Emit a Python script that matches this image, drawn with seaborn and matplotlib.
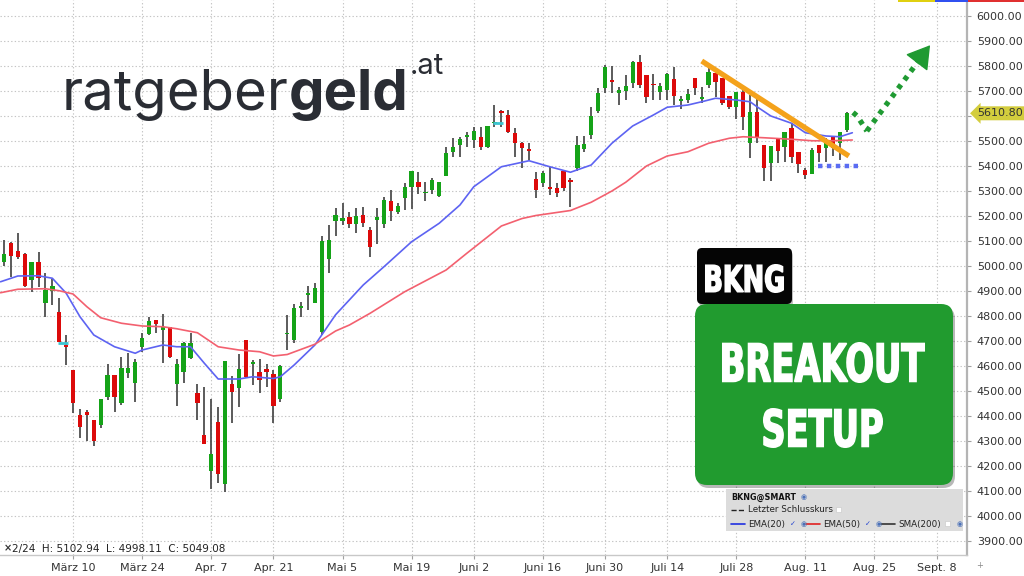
import matplotlib
matplotlib.use("Agg")
import matplotlib.pyplot as plt
import matplotlib.transforms as mtransforms
from matplotlib.patches import FancyBboxPatch, Rectangle, PathPatch
from matplotlib.lines import Line2D
from matplotlib.textpath import TextPath
from matplotlib.font_manager import FontProperties
import numpy as np
import pandas as pd
import seaborn as sns

sns.set_theme(style="white")
plt.rcParams['font.family'] = ['DejaVu Sans']

# ---------------- data (BKNG daily candles) ----------------
opens = [5016, 5091, 5060, 5047, 4944, 5017, 4853, 4901, 4817, 4683,
         4584, 4404, 4417, 4384, 4364, 4477, 4564, 4451, 4571, 4533,
         4677, 4728, 4784, 4744, 4755, 4528, 4577, 4631, 4491, 4324,
         4180, 4377, 4128, 4527, 4513, 4704, 4607, 4575, 4587, 4567,
         4468, 4727, 4704, 4833, 4883, 4853, 4737, 5027, 5181, 5181,
         5195, 5168, 5203, 5144, 5184, 5168, 5260, 5215, 5273, 5317,
         5335, 5291, 5304, 5281, 5361, 5457, 5484, 5515, 5504, 5517,
         5475, 5571, 5620, 5604, 5533, 5491, 5467, 5347, 5331, 5317,
         5311, 5381, 5344, 5391, 5468, 5524, 5620, 5711, 5744, 5694,
         5701, 5731, 5817, 5764, 5728, 5697, 5704, 5747, 5661, 5664,
         5751, 5669, 5724, 5771, 5751, 5680, 5637, 5697, 5491, 5617,
         5484, 5411, 5508, 5477, 5551, 5457, 5384, 5368, 5484, 5471,
         5515, 5493, 5545]
highs = [5102.94, 5097, 5131, 5051, 5017, 5057, 4971, 4947, 4873, 4724,
         4584, 4428, 4424, 4384, 4467, 4608, 4564, 4637, 4653, 4627,
         4731, 4795, 4784, 4808, 4755, 4627, 4697, 4731, 4528, 4515,
         4467, 4437, 4620, 4560, 4648, 4704, 4624, 4629, 4608, 4584,
         4604, 4804, 4848, 4857, 4920, 4933, 5120, 5164, 5231, 5251,
         5217, 5231, 5237, 5155, 5233, 5277, 5304, 5253, 5333, 5381,
         5377, 5336, 5351, 5337, 5475, 5511, 5517, 5537, 5557, 5557,
         5561, 5644, 5624, 5624, 5551, 5497, 5491, 5377, 5381, 5397,
         5331, 5381, 5351, 5520, 5520, 5637, 5711, 5804, 5800, 5715,
         5764, 5821, 5844, 5764, 5768, 5731, 5773, 5797, 5680, 5707,
         5751, 5717, 5791, 5771, 5751, 5680, 5697, 5711, 5684, 5671,
         5484, 5480, 5508, 5537, 5573, 5457, 5391, 5471, 5484, 5511,
         5515, 5537, 5618]
lows = [4998.11, 4957, 5027, 4917, 4897, 4917, 4795, 4844, 4697, 4604,
        4411, 4311, 4301, 4280, 4351, 4464, 4417, 4444, 4551, 4457,
        4657, 4724, 4733, 4613, 4631, 4441, 4531, 4628, 4384, 4288,
        4107, 4131, 4097, 4373, 4435, 4551, 4524, 4491, 4517, 4371,
        4457, 4664, 4691, 4797, 4824, 4851, 4724, 4971, 5120, 5164,
        5151, 5133, 5157, 5037, 5088, 5151, 5181, 5208, 5224, 5229,
        5288, 5261, 5288, 5275, 5361, 5437, 5437, 5477, 5471, 5464,
        5471, 5555, 5555, 5531, 5437, 5391, 5424, 5271, 5315, 5284,
        5277, 5300, 5237, 5381, 5457, 5507, 5613, 5693, 5691, 5644,
        5664, 5711, 5711, 5653, 5664, 5664, 5664, 5644, 5627, 5651,
        5684, 5651, 5711, 5677, 5644, 5627, 5588, 5544, 5431, 5491,
        5341, 5341, 5411, 5417, 5411, 5371, 5347, 5368, 5417, 5417,
        5440, 5424, 5537]
closes = [5049.08, 5040, 5037, 4920, 5017, 4951, 4904, 4920, 4697, 4675,
          4453, 4355, 4404, 4300, 4467, 4564, 4475, 4593, 4591, 4617,
          4711, 4781, 4768, 4755, 4635, 4608, 4691, 4691, 4453, 4288,
          4248, 4167, 4620, 4497, 4587, 4557, 4617, 4544, 4576, 4441,
          4600, 4733, 4831, 4841, 4891, 4911, 5101, 5104, 5205, 5193,
          5167, 5200, 5171, 5075, 5197, 5264, 5221, 5240, 5317, 5381,
          5315, 5297, 5344, 5337, 5453, 5477, 5507, 5524, 5541, 5477,
          5561, 5577, 5613, 5537, 5493, 5471, 5461, 5304, 5371, 5307,
          5291, 5311, 5337, 5484, 5488, 5600, 5693, 5795, 5737, 5704,
          5720, 5817, 5724, 5675, 5723, 5720, 5768, 5680, 5666, 5688,
          5711, 5677, 5777, 5737, 5651, 5637, 5697, 5597, 5617, 5511,
          5391, 5480, 5461, 5537, 5437, 5408, 5364, 5464, 5453, 5491,
          5471, 5537, 5610.80]

# moving averages, sampled along the chart (trading-day position, value)
ema20_pos = [-0.5, 2, 5, 7, 9, 11, 13, 16, 19, 20, 23, 25, 27, 29, 31, 34, 36, 39, 40, 42,
             45, 48, 52, 55, 59, 63, 66, 68, 72, 76, 79, 82, 85, 88, 91, 94, 96, 99, 101,
             103, 106, 108, 109, 111, 114, 116, 119, 121, 122.8]
ema20_val = [4937, 4960, 4961, 4951, 4891, 4797, 4724, 4677, 4651, 4664, 4684, 4677, 4677,
             4611, 4548, 4548, 4557, 4550, 4557, 4604, 4684, 4805, 4924, 4997, 5097, 5171,
             5244, 5317, 5397, 5421, 5397, 5375, 5404, 5491, 5560, 5604, 5635, 5644, 5657,
             5671, 5664, 5657, 5637, 5600, 5571, 5533, 5520, 5517, 5533]
ema50_pos = [-0.5, 2, 6, 8, 10, 12, 14, 17, 20, 23, 25, 28, 31, 34, 37, 39, 41, 45, 48, 50,
             53, 58, 64, 67, 72, 75, 77, 82, 85, 88, 90, 93, 96, 99, 102, 105, 107, 110, 114,
             117, 120, 122.8]
ema50_val = [4893, 4907, 4909, 4901, 4888, 4837, 4793, 4771, 4760, 4757, 4749, 4733, 4677,
             4664, 4657, 4640, 4646, 4687, 4740, 4764, 4811, 4897, 4984, 5051, 5160, 5190,
             5202, 5222, 5255, 5300, 5335, 5400, 5440, 5457, 5491, 5511, 5517, 5513, 5507,
             5501, 5501, 5504]

# annotations drawn on the chart
marker_pos = [8.5, 71.5]
marker_val = [4693, 5571]
trend_pos = [101.0, 122.3]
trend_val = [5820, 5440]
support_pos = [117.8, 123.9]
support_val = [5400, 5400]
fc_pos = [122.9, 123.5, 124.9]
fc_val = [5614, 5600, 5540]
arrow_pos = [124.9, 134.3]
arrow_val = [5540, 5892]

holidays = ['2025-04-18', '2025-05-26', '2025-06-19', '2025-07-04', '2025-09-01']
tick_dates = ['2025-03-10', '2025-03-24', '2025-04-07', '2025-04-21', '2025-05-05',
              '2025-05-19', '2025-06-02', '2025-06-16', '2025-06-30', '2025-07-14',
              '2025-07-28', '2025-08-11', '2025-08-25', '2025-09-08']
tick_labels = ['März 10', 'März 24', 'Apr. 7', 'Apr. 21', 'Mai 5', 'Mai 19', 'Juni 2',
               'Juni 16', 'Juni 30', 'Juli 14', 'Juli 28', 'Aug. 11', 'Aug. 25', 'Sept. 8']

days = pd.bdate_range('2025-02-24', '2025-10-31', freq='C', holidays=holidays)
tick_pos = [days.get_loc(pd.Timestamp(d)) for d in tick_dates]

df = pd.DataFrame({'open': opens, 'high': highs, 'low': lows, 'close': closes})
df['pos'] = np.arange(len(df))
df['up'] = df['close'] >= df['open']

GREEN = '#15a318'
RED = '#dc0a0a'

# ---------------- figure ----------------
fig = plt.figure(figsize=(10.24, 5.76), dpi=100)
ax = fig.add_axes([0, 21 / 576, 967 / 1024, 555 / 576])
ax.set_facecolor('white')
ax.set_xlim(-0.58, 139.4)
ax.set_ylim(3844, 6064)

# grid
ax.set_yticks(np.arange(3900, 6001, 100))
ax.set_xticks(tick_pos, tick_labels)
ax.set_axisbelow(True)
ax.grid(True, color='#c4c4c4', linestyle=(0, (1.2, 2)), linewidth=0.8)

# candles
ax.vlines(df['pos'], df['low'], df['high'], color='#4e4e4e', linewidth=1.3, zorder=2)
body_h = np.maximum((df['close'] - df['open']).abs(), 6)
body_b = np.minimum(df['open'], df['close'])
ax.bar(df['pos'], body_h, bottom=body_b, width=0.62,
       color=np.where(df['up'], GREEN, RED), zorder=3, linewidth=0)

# cyan markers
for p, v in zip(marker_pos, marker_val):
    ax.hlines(v, p - 0.75, p + 0.75, color='#3cc4d2', linewidth=2, zorder=4)

# EMA lines
sns.lineplot(x=ema20_pos, y=ema20_val, ax=ax, color='#5d63f2', linewidth=1.2,
             sort=False, estimator=None, zorder=4)
sns.lineplot(x=ema50_pos, y=ema50_val, ax=ax, color='#f3606f', linewidth=1.2,
             sort=False, estimator=None, zorder=4)

# trendline, support and projected breakout
ax.plot(trend_pos, trend_val, color='#f4a21b', linewidth=3.8, solid_capstyle='butt', zorder=5)
ax.plot(support_pos, support_val, color='#5a6cf2', linewidth=3.2,
        linestyle=(0, (1, 1)), zorder=5)
ax.plot(fc_pos, fc_val, color='#1f9a32', linewidth=3.8, linestyle=(0, (0.9, 1.1)), zorder=5)
ax.plot([arrow_pos[0], arrow_pos[0] + (arrow_pos[1] - arrow_pos[0]) * 0.88],
        [arrow_val[0], arrow_val[0] + (arrow_val[1] - arrow_val[0]) * 0.88],
        color='#1f9a32', linewidth=3.8, linestyle=(0, (0.9, 1.1)), zorder=5)
ax.annotate('', xy=(arrow_pos[1], arrow_val[1]),
            xytext=(arrow_pos[1] - 1.0, arrow_val[1] - 36),
            arrowprops=dict(arrowstyle='-|>,head_length=0.9,head_width=0.55',
                            color='#1f9a32', lw=1, mutation_scale=16), zorder=6)

# axes styling
for s in ['top', 'left']:
    ax.spines[s].set_visible(False)
ax.spines['right'].set_color('#b4b4b4')
ax.spines['right'].set_linewidth(1.6)
ax.spines['bottom'].set_color('#c8c8c8')
ax.spines['bottom'].set_linewidth(1)
ax.yaxis.tick_right()
ax.yaxis.set_major_formatter(plt.FuncFormatter(
    lambda v, _: '' if abs(v - 5600) < 1 else f'{v:.2f}'))
ax.tick_params(axis='y', labelsize=8, labelcolor='#333333', color='#a0a0a0',
               length=3, width=0.8, pad=4, right=True)
ax.tick_params(axis='x', labelsize=8, labelcolor='#333333', color='#a0a0a0',
               length=3, width=0.8, pad=3, bottom=True)
ax.set_xlabel('')
ax.set_ylabel('')

# last close label
blend = mtransforms.blended_transform_factory(ax.transAxes, ax.transData)
ax.text(1.011, closes[-1], f'{closes[-1]:.2f}', transform=blend, ha='left', va='center',
        fontsize=8, color='#333333', clip_on=False, zorder=10,
        bbox=dict(boxstyle='larrow,pad=0.18', fc='#d3cd3d', ec='none'))

# pixel transforms (origin top-left / bottom-left)
pxT = mtransforms.Affine2D().scale(1 / 1024, -1 / 576).translate(0, 1) + fig.transFigure
pxB = mtransforms.Affine2D().scale(1 / 1024, 1 / 576) + fig.transFigure

# top colour strip
for x0, w, c in [(898, 37, '#e0d010'), (935, 33, '#3050f0'), (968, 56, '#e03030')]:
    fig.add_artist(Rectangle((x0, 0), w, 2, transform=pxT, fc=c, ec='none'))

# logo
logo_col = '#2a2d34'
t1 = fig.text(62, 110, 'ratgeber', transform=pxT, fontsize=40.5, family='Inter',
              color=logo_col, va='baseline')
fig.canvas.draw()
r = fig.canvas.get_renderer()
bb = t1.get_window_extent(r)
t2 = fig.text(bb.x1 / 1024, 1 - 110 / 576, 'geld', fontsize=40.5, family='Inter',
              fontweight='bold', color=logo_col, va='baseline')
bb2 = t2.get_window_extent(r)
fig.text(bb2.x1 / 1024 + 0.001, 1 - 74 / 576, '.at', fontsize=21, family='Inter',
         color=logo_col, va='baseline')


def block_text(s, left, right, top, bottom):
    # bold caps squeezed into the given pixel box (condensed poster look)
    tp = TextPath((0, 0), s, size=50, prop=FontProperties(family='DejaVu Sans', weight='bold'))
    ext = tp.get_extents()
    tr = (mtransforms.Affine2D().translate(-ext.x0, -ext.y0)
          .scale((right - left - 1.5) / ext.width, (bottom - top - 1.5) / ext.height)
          .translate(left + 0.75, 576 - bottom + 0.75))
    fig.add_artist(PathPatch(tr.transform_path(tp), transform=pxB, fc='white',
                             ec='white', lw=1.1))


# ticker + setup boxes (with soft shadow)
fig.add_artist(FancyBboxPatch((699, 251), 94, 56, boxstyle='round,pad=0,rounding_size=5',
                              transform=pxT, fc='#000000', ec='none', alpha=0.25))
fig.add_artist(FancyBboxPatch((697, 248), 95, 56, boxstyle='round,pad=0,rounding_size=5',
                              transform=pxT, fc='#050505', ec='none'))
block_text('BKNG', 705, 784, 264, 293)
fig.add_artist(FancyBboxPatch((697, 307), 258, 181, boxstyle='round,pad=0,rounding_size=12',
                              transform=pxT, fc='#000000', ec='none', alpha=0.28))
fig.add_artist(FancyBboxPatch((695, 304), 258, 181, boxstyle='round,pad=0,rounding_size=12',
                              transform=pxT, fc='#219b2f', ec='none'))
block_text('BREAKOUT', 722, 925, 342, 383)
block_text('SETUP', 763, 883, 408, 448)

# legend panel
fig.add_artist(Rectangle((726, 489), 237, 42, transform=pxT, fc='#dcdcdc', ec='none'))
fs = 6.3
head = fig.text(731, 497, 'BKNG@SMART', transform=pxT, fontsize=5.8, fontweight='bold',
                color='#111111', va='center')
hb = head.get_window_extent(r)
fig.text(hb.x1 + 5, 576 - 497, '◉', transform=pxB, fontsize=5, color='#4a70b8', va='center')
fig.add_artist(Line2D([731, 744], [510, 510], transform=pxT, color='#222222', lw=1, ls='--'))
fig.text(748, 510, 'Letzter Schlusskurs', transform=pxT, fontsize=fs, color='#222222', va='center')
fig.add_artist(Rectangle((836, 507), 5, 5, transform=pxT, fc='white', ec='#cccccc', lw=0.5))
row = [(731, 'EMA(20)', '#2030e0', '✓', 790, 801),
       (806, 'EMA(50)', '#e02020', '✓', 865, 876),
       (881, 'SMA(200)', '#333333', None, 946, 957)]
for x0, lab, col, chk, xc, xg in row:
    fig.add_artist(Line2D([x0, x0 + 14], [524, 524], transform=pxT, color=col, lw=1.2))
    fig.text(x0 + 17, 524, lab, transform=pxT, fontsize=fs, color='#222222', va='center')
    if chk:
        fig.text(xc, 524, chk, transform=pxT, fontsize=5, color='#2040d0', va='center')
    else:
        fig.add_artist(Rectangle((xc - 1, 521), 5, 5, transform=pxT, fc='white',
                                 ec='#cccccc', lw=0.5))
    fig.text(xg, 524, '◉', transform=pxT, fontsize=5, color='#4a70b8', va='center')

# status line
fig.text(4, 548, '×', transform=pxT, fontsize=7, fontweight='bold', color='#333333', va='center')
fig.text(12, 549, f'2/24  H: {highs[0]:.2f}  L: {lows[0]:.2f}  C: {closes[0]:.2f}',
         transform=pxT, fontsize=7.5, color='#222222', va='center')
fig.text(976, 565, '+', transform=pxT, fontsize=6, color='#888888', va='center')

fig.savefig('out.png', dpi=100)
